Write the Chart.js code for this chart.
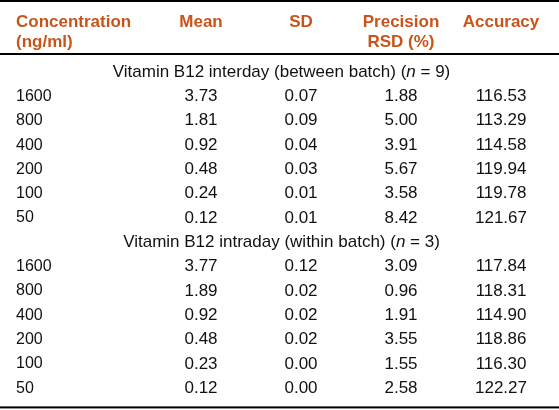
<!DOCTYPE html>
<html>
<head>
<meta charset="utf-8">
<script src="https://cdn.jsdelivr.net/npm/chart.js@4.4.0/dist/chart.umd.min.js"></script>
<style>
  html, body { margin: 0; padding: 0; background: #fff; }
  #wrap { width: 559px; height: 410px; }
</style>
</head>
<body>
<div id="wrap"><canvas id="precision-table"></canvas></div>
<script>
// Table content
const concentrations = ['1600', '800', '400', '200', '100', '50'];
const columns = ['Mean', 'SD', 'Precision', 'Accuracy'];
const headerLines = [['Concentration', '(ng/ml)'], ['Mean'], ['SD'], ['Precision', 'RSD (%)'], ['Accuracy']];

const interTitle = ['Vitamin B12 interday (between batch) (', 'n', ' = 9)'];
const interMean = [3.73, 1.81, 0.92, 0.48, 0.24, 0.12];
const interSD = [0.07, 0.09, 0.04, 0.03, 0.01, 0.01];
const interRSD = [1.88, 5.00, 3.91, 5.67, 3.58, 8.42];
const interAcc = [116.53, 113.29, 114.58, 119.94, 119.78, 121.67];

const intraTitle = ['Vitamin B12 intraday (within batch) (', 'n', ' = 3)'];
const intraMean = [3.77, 1.89, 0.92, 0.48, 0.23, 0.12];
const intraSD = [0.12, 0.02, 0.02, 0.02, 0.00, 0.00];
const intraRSD = [3.09, 0.96, 1.91, 3.55, 1.55, 2.58];
const intraAcc = [117.84, 118.31, 114.90, 118.86, 116.30, 122.27];

const FONT = '"Liberation Sans", Arial, sans-serif';
const headerColor = '#c9541a';
const textColor = '#111';

// Build rows: one title row per section, then one row per concentration
const sections = [
  { key: 'inter', title: interTitle, cols: [interMean, interSD, interRSD, interAcc] },
  { key: 'intra', title: intraTitle, cols: [intraMean, intraSD, intraRSD, intraAcc] },
];
const rowKeys = [];   // unique category keys for the y scale
const rowText = [];   // what the y axis shows for each row
const titleRows = [];
const cells = [];
sections.forEach(s => {
  titleRows.push({ key: s.key + '-title', parts: s.title });
  rowKeys.push(s.key + '-title');
  rowText.push('');
  concentrations.forEach((c, i) => {
    const key = s.key + '-' + c;
    rowKeys.push(key);
    rowText.push(c);
    s.cols.forEach((vals, j) => {
      cells.push({ x: columns[j], y: key, text: vals[i].toFixed(2) });
    });
  });
});

// Draws the rules, header, section titles and cell values
const tablePlugin = {
  id: 'tableText',
  afterDatasetsDraw(chart) {
    const { ctx, chartArea, scales: { x, y } } = chart;
    ctx.save();

    // horizontal rules
    ctx.fillStyle = '#000';
    ctx.fillRect(0, 0, chart.width, 2);
    ctx.fillRect(0, chartArea.top - 7, chart.width, 2);
    ctx.fillRect(0, chartArea.bottom + 6, chart.width, 2);

    // header
    ctx.textBaseline = 'middle';
    ctx.font = 'bold 17px ' + FONT;
    ctx.fillStyle = headerColor;
    headerLines.forEach((lines, i) => {
      const first = i === 0;
      ctx.textAlign = first ? 'left' : 'center';
      const px = first ? y.left : x.getPixelForValue(i - 1);
      lines.forEach((t, k) => ctx.fillText(t, px, 22 + k * 20));
    });

    // section titles, centred, with italic n
    ctx.fillStyle = textColor;
    ctx.textAlign = 'left';
    titleRows.forEach(tr => {
      const fonts = ['17px ' + FONT, 'italic 17px ' + FONT, '17px ' + FONT];
      const widths = tr.parts.map((p, k) => { ctx.font = fonts[k]; return ctx.measureText(p).width; });
      let px = chart.width / 2 + 2 - widths.reduce((a, b) => a + b, 0) / 2;
      const py = y.getPixelForValue(rowKeys.indexOf(tr.key));
      tr.parts.forEach((p, k) => {
        ctx.font = fonts[k];
        ctx.fillText(p, px, py);
        px += widths[k];
      });
    });

    // cell values at their scale positions
    ctx.font = '17px ' + FONT;
    ctx.textAlign = 'center';
    const meta = chart.getDatasetMeta(0);
    meta.data.forEach((el, i) => {
      ctx.fillText(cells[i].text, el.x, el.y);
    });

    ctx.restore();
  }
};

new Chart(document.getElementById('precision-table'), {
  type: 'scatter',
  data: {
    datasets: [{
      label: 'values',
      data: cells,
      pointRadius: 0,
      pointHoverRadius: 0,
    }],
  },
  options: {
    responsive: true,
    maintainAspectRatio: false,
    animation: false,
    layout: { padding: { left: 16, right: 8, top: 60, bottom: 9 } },
    plugins: {
      legend: { display: false },
      tooltip: { enabled: false },
    },
    scales: {
      x: {
        type: 'category',
        labels: columns,
        offset: true,
        display: false,
      },
      y: {
        type: 'category',
        labels: rowKeys,
        offset: true,
        grid: { display: false },
        border: { display: false },
        ticks: {
          autoSkip: false,
          crossAlign: 'far',
          padding: 0,
          color: textColor,
          font: { family: FONT, size: 16 },
          callback: (value, index) => rowText[index],
        },
        afterFit(scale) {
          scale.width = 135;
        },
      },
    },
  },
  plugins: [tablePlugin],
});
</script>
</body>
</html>
